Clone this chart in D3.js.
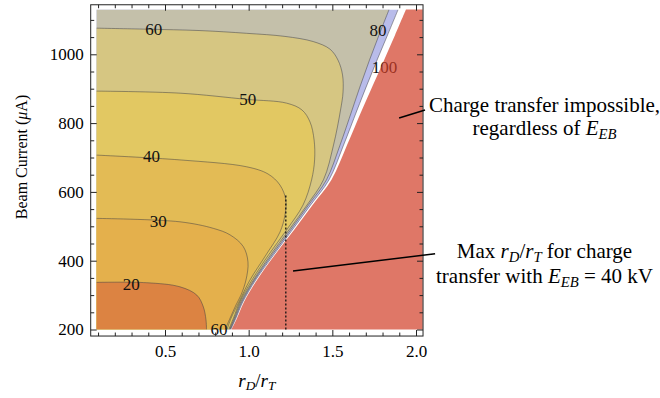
<!DOCTYPE html>
<html>
<head>
<meta charset="utf-8">
<script src="https://cdn.jsdelivr.net/npm/d3@7"></script>
<style>
  html, body { margin: 0; padding: 0; background: #fff; }
  svg { display: block; font-family: "Liberation Serif", "Times New Roman", serif; }
  text { white-space: pre; }
</style>
</head>
<body>
<svg id="chart" width="660" height="398"></svg>
<script>
// Contour lines of the charge-transfer efficiency (%) over r_D/r_T and beam current (µA).
// Each line runs from the left edge (or top edge) down to the 200 µA floor.
const contour20 = [[0.09,337],[0.39,336],[0.59,324],[0.69,300],[0.729,266],[0.745,228],[0.748,200]];
const contour30 = [[0.09,523],[0.59,513],[0.789,494],[0.889,475],[0.968,441],[0.996,396],[0.984,344],[0.954,300],[0.924,271],[0.889,233],[0.859,200]];
const contour40 = [[0.09,707],[0.59,693],[0.988,673],[1.116,652],[1.187,620],[1.222,577],[1.217,533],[1.187,483],[1.104,417],[1.008,344],[0.942,280],[0.895,233],[0.871,200]];
const contour50 = [[0.09,893],[0.59,887],[0.988,869],[1.227,858],[1.319,838],[1.367,803],[1.391,751],[1.394,693],[1.376,635],[1.325,562],[1.226,489],[1.119,417],[1.02,344],[0.947,280],[0.909,233],[0.881,200]];
const contour60 = [[0.09,1076],[0.391,1073],[0.709,1069],[0.988,1061],[1.217,1052],[1.386,1037],[1.486,1015],[1.534,983],[1.561,940],[1.564,890],[1.549,838],[1.507,736],[1.447,635],[1.349,562],[1.24,489],[1.131,417],[1.029,344],[0.953,280],[0.914,233],[0.886,200]];
const contour80 = [[1.839,1130],[1.779,1056],[1.722,983],[1.669,911],[1.618,838],[1.546,736],[1.465,635],[1.358,562],[1.25,489],[1.14,417],[1.035,344],[0.959,280],[0.919,233],[0.889,200]];
const contour100 = [[1.893,1130],[1.83,1056],[1.767,983],[1.707,911],[1.648,838],[1.567,736],[1.48,635],[1.37,562],[1.26,489],[1.149,417],[1.042,344],[0.965,280],[0.924,233],[0.893,200]];

// Edge of the region where charge transfer is impossible
const impossibleEdge = [[1.94,1130],[1.875,1056],[1.809,983],[1.743,911],[1.677,838],[1.588,736],[1.495,635],[1.382,562],[1.271,489],[1.157,417],[1.05,344],[0.972,280],[0.93,233],[0.897,200]];

// Fill colour of the band just below each contour level
const levels      = [100, 80, 60, 50, 40, 30, 20];
const bandColors  = ["#b9bcea", "#c4c0aa", "#d6c682", "#e2c862", "#e3bb55", "#e4b04c", "#dc8342"];
const levelLines  = [contour100, contour80, contour60, contour50, contour40, contour30, contour20];

// Contour labels: text, r_D/r_T, current
const labelText = ["60", "50", "40", "30", "20", "80", "100", "60"];
const labelX    = [0.433, 0.995, 0.42, 0.459, 0.298, 1.773, 1.812, 0.822];
const labelY    = [1073, 870, 703, 516, 333, 1071, 962, 202];

// Max r_D/r_T reachable on the 40 kV line
const maxRatio40 = 1.222;
const maxRatioTop = 595;

// Leader lines: [r_D/r_T, current] at each end
const leaderImpossible = [[1.899, 815], [2.054, 838]];
const leaderMax40      = [[1.265, 370], [2.114, 420]];

// Axis ticks
const xMajor = [0.5, 1.0, 1.5, 2.0];
const xMinor = [0.1, 0.2, 0.3, 0.4, 0.6, 0.7, 0.8, 0.9, 1.1, 1.2, 1.3, 1.4, 1.6, 1.7, 1.8, 1.9];
const yMajor = [200, 400, 600, 800, 1000];
const yMinor = [250, 300, 350, 450, 500, 550, 650, 700, 750, 850, 900, 950, 1050, 1100];

// Plot extents in data units
const plotX = [0.09, 2.04];
const plotY = [200, 1130];
const frameX = [0.056, 2.042];
const frameY = [181, 1144];

const svg = d3.select("#chart");
const x = d3.scaleLinear().domain([0.5, 2.0]).range([165, 416]);
const y = d3.scaleLinear().domain([200, 1000]).range([329.5, 54.3]);

const curve = d3.line().x(d => x(d[0])).y(d => y(d[1])).curve(d3.curveCatmullRom.alpha(0.5));

svg.append("defs").append("clipPath").attr("id", "plotClip")
  .append("rect")
  .attr("x", x(plotX[0])).attr("y", y(plotY[1]))
  .attr("width", x(plotX[1]) - x(plotX[0]))
  .attr("height", y(plotY[0]) - y(plotY[1]));

const plot = svg.append("g").attr("clip-path", "url(#plotClip)");

// Region above the top contour stays white
plot.append("rect")
  .attr("x", x(plotX[0])).attr("y", y(plotY[1]))
  .attr("width", x(plotX[1]) - x(plotX[0]))
  .attr("height", y(plotY[0]) - y(plotY[1]))
  .attr("fill", "#ffffff");

// Filled bands: region on the low side of each contour, highest level first
levelLines.forEach((pts, i) => {
  const startsOnTop = pts[0][1] >= plotY[1];
  let d = curve(pts) + `L${x(plotX[0])},${y(plotY[0])}`;
  if (startsOnTop) d += `L${x(plotX[0])},${y(plotY[1])}`;
  d += "Z";
  plot.append("path").attr("d", d).attr("fill", bandColors[i]).attr("stroke", "none");
});

// Contour lines
levelLines.forEach(pts => {
  plot.append("path").attr("d", curve(pts))
    .attr("fill", "none")
    .attr("stroke", "#3c3c46")
    .attr("stroke-opacity", 0.55)
    .attr("stroke-width", 0.9);
});

// Contour labels
const labels = svg.append("g").attr("font-size", 17).attr("text-anchor", "middle");
labelText.forEach((t, i) => {
  labels.append("text")
    .attr("x", x(labelX[i])).attr("y", y(labelY[i]))
    .attr("dy", "0.35em")
    .attr("fill", "#111")
    .text(t);
});

// Impossible region, semi-transparent so underlying labels show through darkened
const redPath = curve(impossibleEdge)
  + `L${x(plotX[1])},${y(plotY[0])}L${x(plotX[1])},${y(plotY[1])}Z`;
svg.append("path").attr("d", redPath)
  .attr("fill", "#d13d26").attr("fill-opacity", 0.7);

// Frame
svg.append("rect")
  .attr("x", x(frameX[0])).attr("y", y(frameY[1]))
  .attr("width", x(frameX[1]) - x(frameX[0]))
  .attr("height", y(frameY[0]) - y(frameY[1]))
  .attr("fill", "none").attr("stroke", "#222").attr("stroke-width", 1);

function styleAxis(g) {
  g.select(".domain").remove();
  g.attr("color", "#222").attr("font-family", null).attr("font-size", null);
  g.selectAll("text").attr("font-size", 17).attr("fill", "#000");
}

const bottomY = y(frameY[0]), topY = y(frameY[1]);
const leftX = x(frameX[0]), rightX = x(frameX[1]);

svg.append("g").attr("transform", `translate(0,${bottomY})`)
  .call(d3.axisBottom(x).tickValues(xMajor).tickSizeInner(-6).tickSizeOuter(0).tickPadding(8.5).tickFormat(d3.format(".1f")))
  .call(styleAxis);
svg.append("g").attr("transform", `translate(0,${bottomY})`)
  .call(d3.axisBottom(x).tickValues(xMinor).tickSizeInner(-3.5).tickSizeOuter(0).tickFormat(""))
  .call(styleAxis);
svg.append("g").attr("transform", `translate(0,${topY})`)
  .call(d3.axisTop(x).tickValues(xMajor).tickSizeInner(-6).tickSizeOuter(0).tickFormat(""))
  .call(styleAxis);
svg.append("g").attr("transform", `translate(0,${topY})`)
  .call(d3.axisTop(x).tickValues(xMinor).tickSizeInner(-3.5).tickSizeOuter(0).tickFormat(""))
  .call(styleAxis);

svg.append("g").attr("transform", `translate(${leftX},0)`)
  .call(d3.axisLeft(y).tickValues(yMajor).tickSizeInner(-6).tickSizeOuter(0).tickPadding(7).tickFormat(d3.format("d")))
  .call(styleAxis);
svg.append("g").attr("transform", `translate(${leftX},0)`)
  .call(d3.axisLeft(y).tickValues(yMinor).tickSizeInner(-3.5).tickSizeOuter(0).tickFormat(""))
  .call(styleAxis);
svg.append("g").attr("transform", `translate(${rightX},0)`)
  .call(d3.axisRight(y).tickValues(yMajor).tickSizeInner(-6).tickSizeOuter(0).tickFormat(""))
  .call(styleAxis);
svg.append("g").attr("transform", `translate(${rightX},0)`)
  .call(d3.axisRight(y).tickValues(yMinor).tickSizeInner(-3.5).tickSizeOuter(0).tickFormat(""))
  .call(styleAxis);

// Dotted marker at the largest r_D/r_T on the 40 kV contour
svg.append("line")
  .attr("x1", x(maxRatio40)).attr("x2", x(maxRatio40))
  .attr("y1", y(plotY[0])).attr("y2", y(maxRatioTop))
  .attr("stroke", "#111").attr("stroke-width", 1.3).attr("stroke-dasharray", "2,2");

// Leader lines
[leaderImpossible, leaderMax40].forEach(seg => {
  svg.append("line")
    .attr("x1", x(seg[0][0])).attr("y1", y(seg[0][1]))
    .attr("x2", x(seg[1][0])).attr("y2", y(seg[1][1]))
    .attr("stroke", "#000").attr("stroke-width", 1.6);
});

// Rich text helper: segments of [string, style] with style n (normal), i (italic), s (italic subscript)
function richText(parent, px, py, size, segs, anchor, transform) {
  const t = parent.append("text")
    .attr("x", px).attr("y", py)
    .attr("font-size", size)
    .attr("text-anchor", anchor || "middle")
    .attr("fill", "#000");
  if (transform) t.attr("transform", transform);
  let inSub = false;
  segs.forEach(([s, st]) => {
    const span = t.append("tspan").text(s);
    if (st === "i" || st === "s") span.attr("font-style", "italic");
    if (st === "s") {
      span.attr("font-size", size * 0.7);
      if (!inSub) span.attr("dy", size * 0.18);
      inSub = true;
    } else {
      if (inSub) span.attr("dy", -size * 0.18);
      inSub = false;
    }
  });
  return t;
}

// Annotations
const noteX = 544.5;
richText(svg, noteX, 111.5, 21, [["Charge transfer impossible,", "n"]]);
richText(svg, noteX, 135, 21, [["regardless of ", "n"], ["E", "i"], ["EB", "s"]]);
richText(svg, noteX, 258, 21, [["Max ", "n"], ["r", "i"], ["D", "s"], ["/", "n"], ["r", "i"], ["T", "s"], [" for charge", "n"]]);
richText(svg, noteX, 283, 21, [["transfer with ", "n"], ["E", "i"], ["EB", "s"], [" = 40 kV", "n"]]);

// Axis titles
richText(svg, (leftX + rightX) / 2, 387, 19, [["r", "i"], ["D", "s"], ["/", "n"], ["r", "i"], ["T", "s"]]);
richText(svg, 26.5, 157, 16, [["Beam Current (", "n"], ["\u03bc", "i"], ["A)", "n"]], "middle", "rotate(-90,26.5,157)");
</script>
</body>
</html>
